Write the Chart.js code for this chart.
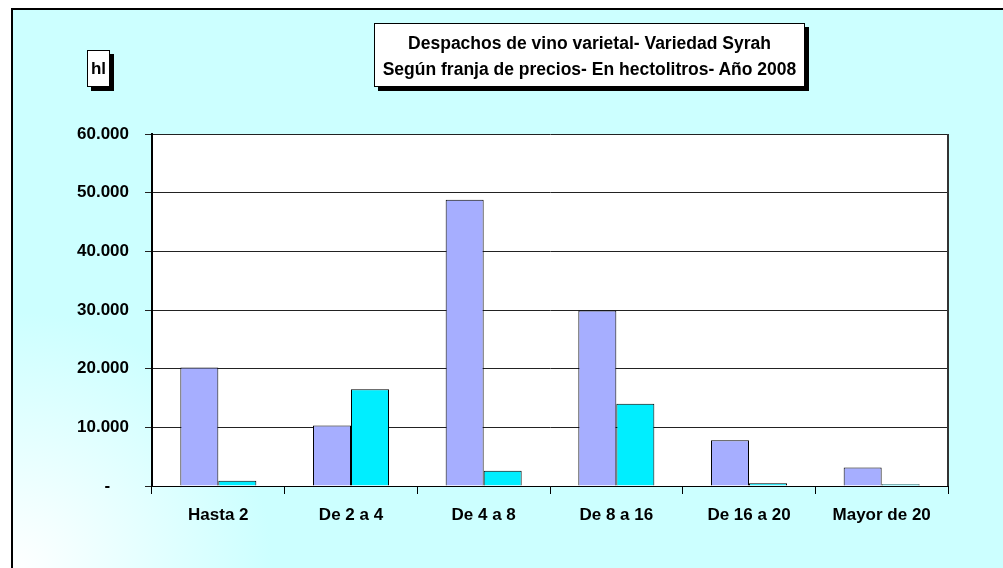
<!DOCTYPE html>
<html>
<head>
<meta charset="utf-8">
<script src="https://cdn.jsdelivr.net/npm/chart.js@4"></script>
<style>
  html, body { margin: 0; padding: 0; background: #fff; overflow: hidden; }
  #frame {
    position: absolute; left: 11px; top: 8px; width: 1100px; height: 562px;
    border: 2px solid #000;
    background: radial-gradient(circle at 0% 100%, #ffffff 0px, #ccffff 260px);
  }
  #chartBox { position: absolute; left: 0; top: 0; width: 1003px; height: 568px; }
  .box {
    position: absolute; background: #fff; border: 1px solid #000;
    box-shadow: 4px 4px 0 #000; font-family: "Liberation Sans", Arial, sans-serif;
    font-weight: bold; color: #000; text-align: center; box-sizing: border-box;
  }
  #title { left: 374px; top: 23px; width: 431px; height: 64px; font-size: 17.5px; line-height: 26px; padding-top: 6px; }
  #unit { left: 87px; top: 50px; width: 23px; height: 37px; font-size: 17px; line-height: 35px; }
</style>
</head>
<body>
<div id="frame"></div>
<div id="chartBox"><canvas id="syrahChart" width="1003" height="568"></canvas></div>
<div id="title" class="box">Despachos de vino varietal- Variedad Syrah<br>Según franja de precios- En hectolitros- Año 2008</div>
<div id="unit" class="box">hl</div>
<script>
var categories = ['Hasta 2', 'De 2 a 4', 'De 4 a 8', 'De 8 a 16', 'De 16 a 20', 'Mayor de 20'];
var serieA = [20200, 10300, 48800, 29900, 7800, 3150];
var serieB = [900, 16500, 2600, 14000, 450, 300];
var yTicks = [0, 10000, 20000, 30000, 40000, 50000, 60000];

// fondo blanco del area de trazado y borde derecho
var plotArea = {
    id: 'plotArea',
    beforeDraw: function (chart) {
        var a = chart.chartArea, c = chart.ctx;
        c.save();
        c.fillStyle = '#fff';
        c.fillRect(a.left, a.top, a.right - a.left, a.bottom - a.top);
        c.restore();
    },
    afterDraw: function (chart) {
        var a = chart.chartArea, c = chart.ctx;
        c.save();
        c.strokeStyle = '#333';
        c.lineWidth = 2;
        c.beginPath();
        c.moveTo(a.right, a.top);
        c.lineTo(a.right, a.bottom);
        c.stroke();
        c.restore();
    }
};

var ctx = document.getElementById('syrahChart').getContext('2d');
var syrahChart = new Chart(ctx, {
    type: 'bar',
    data: {
        labels: categories,
        datasets: [{
            label: 'Serie 1',
            data: serieA,
            backgroundColor: '#a6aeff',
            borderColor: '#000',
            borderWidth: 1
        }, {
            label: 'Serie 2',
            data: serieB,
            backgroundColor: '#00eeff',
            borderColor: '#000',
            borderWidth: 1
        }]
    },
    options: {
        responsive: false,
        animation: false,
        devicePixelRatio: 1,
        categoryPercentage: 0.573,
        barPercentage: 1,
        layout: { padding: { top: 134, right: 55, left: 0, bottom: 0 } },
        plugins: {
            legend: { display: false },
            tooltip: { enabled: false }
        },
        scales: {
            x: {
                afterFit: function (s) { s.height = 82; },
                grid: { offset: true, drawOnChartArea: false, color: '#000', tickLength: 8 },
                border: { color: '#000', width: 1 },
                ticks: {
                    color: '#000',
                    padding: 11,
                    font: { family: '"Liberation Sans", Arial, sans-serif', size: 17, weight: 'bold' }
                }
            },
            y: {
                min: 0,
                max: 60000,
                afterFit: function (s) { s.width = 152; },
                afterBuildTicks: function (s) { s.ticks = yTicks.map(function (v) { return { value: v }; }); },
                grid: { color: '#222', lineWidth: 1, tickLength: 7 },
                border: { color: '#000', width: 2 },
                ticks: {
                    color: '#000',
                    padding: 16,
                    font: { family: '"Liberation Sans", Arial, sans-serif', size: 17, weight: 'bold' },
                    callback: function (v) { return v === 0 ? '-    ' : (v / 1000) + '.000'; }
                }
            }
        }
    },
    plugins: [plotArea]
});
</script>
</body>
</html>
